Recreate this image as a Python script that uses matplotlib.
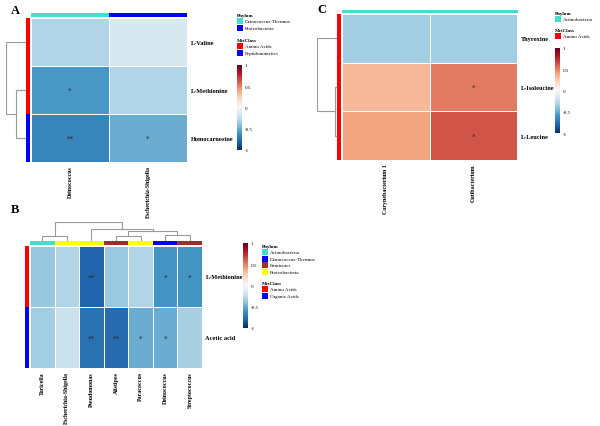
import numpy as np
import matplotlib
matplotlib.use("Agg")
import matplotlib.pyplot as plt
from matplotlib.patches import Rectangle
from matplotlib.cm import ScalarMappable
from matplotlib.colors import Normalize

plt.rcParams['font.family'] = ['Liberation Serif', 'DejaVu Serif']
plt.rcParams['axes.unicode_minus'] = False

W, H = 600, 427

# ---- data ----
# panel A
a_rows = ['L-Valine', 'L-Methionine', 'Homocarnosine']
a_cols = ['Deinococcus', 'Escherichia-Shigella']
a_vals = [[-0.30, -0.17],
          [-0.58, -0.30],
          [-0.66, -0.50]]
a_stars = [['', ''], ['*', ''], ['**', '*']]
a_phylum = ['Deinococcus-Thermus', 'Proteobacteria']
a_metclass = ['Amino Acids', 'Amino Acids', 'Peptidomimetics']
a_row_tree = [(1, 2, 0.48), (0, 3, 1.0)]
a_phylum_colors = {'Deinococcus-Thermus': '#40E0D0', 'Proteobacteria': '#0000FF'}
a_met_colors = {'Amino Acids': '#FF0000', 'Peptidomimetics': '#0000FF'}

# panel B
b_rows = ['L-Methionine', 'Acetic acid']
b_cols = ['Turicella', 'Escherichia-Shigella', 'Pseudomonas', 'Alistipes',
          'Paracoccus', 'Deinococcus', 'Streptococcus']
b_vals = [[-0.38, -0.30, -0.80, -0.37, -0.30, -0.60, -0.60],
          [-0.35, -0.22, -0.75, -0.77, -0.50, -0.50, -0.33]]
b_stars = [['', '', '**', '', '', '*', '*'],
           ['', '', '**', '**', '*', '*', '']]
b_phylum = ['Actinobacteria', 'Proteobacteria', 'Proteobacteria', 'Firmicutes',
            'Proteobacteria', 'Deinococcus-Thermus', 'Firmicutes']
b_metclass = ['Amino Acids', 'Organic Acids']
b_col_tree = [(0, 1, 0.25), (3, 4, 0.25), (5, 6, 0.34), (8, 9, 0.55),
              (2, 10, 0.64), (7, 11, 1.0)]
b_phylum_colors = {'Actinobacteria': '#40E0D0', 'Deinococcus-Thermus': '#0000FF',
                   'Firmicutes': '#A52A2A', 'Proteobacteria': '#FFFF00'}
b_met_colors = {'Amino Acids': '#FF0000', 'Organic Acids': '#0000FF'}

# panel C
c_rows = ['Thyroxine', 'L-Isoleucine', 'L-Leucine']
c_cols = ['Corynebacterium 1', 'Cutibacterium']
c_vals = [[-0.35, -0.35],
          [0.33, 0.52],
          [0.40, 0.63]]
c_stars = [['', ''], ['', '*'], ['', '*']]
c_phylum = ['Actinobacteria', 'Actinobacteria']
c_metclass = ['Amino Acids', 'Amino Acids', 'Amino Acids']
c_row_tree = [(1, 2, 0.08), (0, 3, 1.0)]
c_phylum_colors = {'Actinobacteria': '#40E0D0'}
c_met_colors = {'Amino Acids': '#FF0000'}

cmap = plt.get_cmap('RdBu_r')
norm = Normalize(-1, 1)
dendro_col = '#9a9a9a'

fig = plt.figure(figsize=(W / 100, H / 100), dpi=100)


def px_axes(x0, y0, x1, y1):
    ax = fig.add_axes([x0 / W, 1 - y1 / H, (x1 - x0) / W, (y1 - y0) / H])
    return ax


def heat(box, vals, stars, rows, cols):
    ax = px_axes(*box)
    v = np.array(vals)
    ax.pcolormesh(np.arange(v.shape[1] + 1), np.arange(v.shape[0] + 1), v,
                  cmap=cmap, norm=norm, edgecolors='white', linewidth=0.4)
    ax.set_xlim(0, v.shape[1])
    ax.set_ylim(v.shape[0], 0)
    for i in range(v.shape[0]):
        for j in range(v.shape[1]):
            if stars[i][j]:
                ax.text(j + 0.5, i + 0.5, stars[i][j], ha='center', va='center',
                        fontsize=5.2, color='#2a2a2a', family='DejaVu Sans')
    ax.yaxis.tick_right()
    ax.set_yticks(np.arange(len(rows)) + 0.5)
    ax.set_yticklabels(rows, fontsize=4.6, fontweight='bold')
    ax.set_xticks(np.arange(len(cols)) + 0.5)
    ax.set_xticklabels(cols, fontsize=4.3, fontweight='bold', rotation=90, va='top')
    ax.tick_params(length=0, pad=2.5)
    for s in ax.spines.values():
        s.set_visible(False)
    return ax


def anno_bar(box, cats, colors, vertical):
    ax = px_axes(*box)
    rgb = [matplotlib.colors.to_rgb(colors[c]) for c in cats]
    arr = np.array(rgb)[:, None, :] if vertical else np.array(rgb)[None, :, :]
    ax.imshow(arr, aspect='auto', interpolation='nearest')
    ax.axis('off')


def dendro(box, tree, n, orient):
    ax = px_axes(*box)
    pos = {i: i + 0.5 for i in range(n)}
    hgt = {i: 0.0 for i in range(n)}
    for k, (a, b, h) in enumerate(tree):
        node = n + k
        xs = [pos[a], pos[a], pos[b], pos[b]]
        ys = [hgt[a], h, h, hgt[b]]
        if orient == 'left':
            ax.plot(ys, xs, color=dendro_col, lw=0.8, solid_capstyle='butt')
        else:
            ax.plot(xs, ys, color=dendro_col, lw=0.8, solid_capstyle='butt')
        pos[node] = (pos[a] + pos[b]) / 2
        hgt[node] = h
    if orient == 'left':
        ax.set_xlim(1.0, 0)
        ax.set_ylim(n, 0)
    else:
        ax.set_xlim(0, n)
        ax.set_ylim(0, 1.0)
    ax.axis('off')


def cbar(box):
    cax = px_axes(*box)
    cb = fig.colorbar(ScalarMappable(norm=norm, cmap=cmap), cax=cax,
                      ticks=[-1, -0.5, 0, 0.5, 1])
    cb.ax.set_yticklabels(['-1', '-0.5', '0', '0.5', '1'])
    cb.ax.tick_params(length=0, labelsize=3.6, pad=2)
    cb.outline.set_visible(False)


# overlay for legends and panel letters (pixel coords)
ov = fig.add_axes([0, 0, 1, 1], zorder=10)
ov.set_xlim(0, W)
ov.set_ylim(H, 0)
ov.axis('off')


def anno_legend(x, y, title, colors, step=7.0):
    ov.text(x, y, title, fontsize=3.6, fontweight='bold', va='center')
    for k, nm in enumerate(colors):
        yy = y + 3 + k * step
        ov.add_patch(Rectangle((x, yy), 6, step - 0.8, color=colors[nm], lw=0))
        ov.text(x + 8, yy + (step - 0.8) / 2, nm, fontsize=3.6, va='center')


# ---- panel A ----
heat((31, 19, 187, 163), a_vals, a_stars, a_rows, a_cols)
anno_bar((31, 14, 187, 18), a_phylum, a_phylum_colors, False)
anno_bar((26, 19, 30, 163), a_metclass, a_met_colors, True)
dendro((6, 19, 26, 163), a_row_tree, 3, 'left')
anno_legend(237, 16, 'Phylum', a_phylum_colors)
anno_legend(237, 41, 'MetClass', a_met_colors)
cbar((237, 66, 242, 151))

# ---- panel B ----
heat((30, 247, 202, 369), b_vals, b_stars, b_rows, b_cols)
anno_bar((30, 242, 202, 246), b_phylum, b_phylum_colors, False)
anno_bar((25, 247, 29, 369), b_metclass, b_met_colors, True)
dendro((30, 223, 202, 242), b_col_tree, 7, 'top')
cbar((243, 244, 248, 329))
anno_legend(262, 247, 'Phylum', b_phylum_colors, 6.7)
anno_legend(262, 284, 'MetClass', b_met_colors, 6.7)

# ---- panel C ----
heat((342, 15, 517, 161), c_vals, c_stars, c_rows, c_cols)
anno_bar((342, 11, 517, 14), c_phylum, c_phylum_colors, False)
anno_bar((337, 15, 341, 161), c_metclass, c_met_colors, True)
dendro((317, 15, 337, 161), c_row_tree, 3, 'left')
anno_legend(555, 14, 'Phylum', c_phylum_colors)
anno_legend(555, 31, 'MetClass', c_met_colors)
cbar((555, 49, 560, 134))

for lab, x, y in [('A', 15, 10.5), ('B', 15, 210), ('C', 322, 10)]:
    ov.text(x, y, lab, fontsize=9, fontweight='bold', ha='center', va='center')

fig.savefig('out.png', dpi=100)
